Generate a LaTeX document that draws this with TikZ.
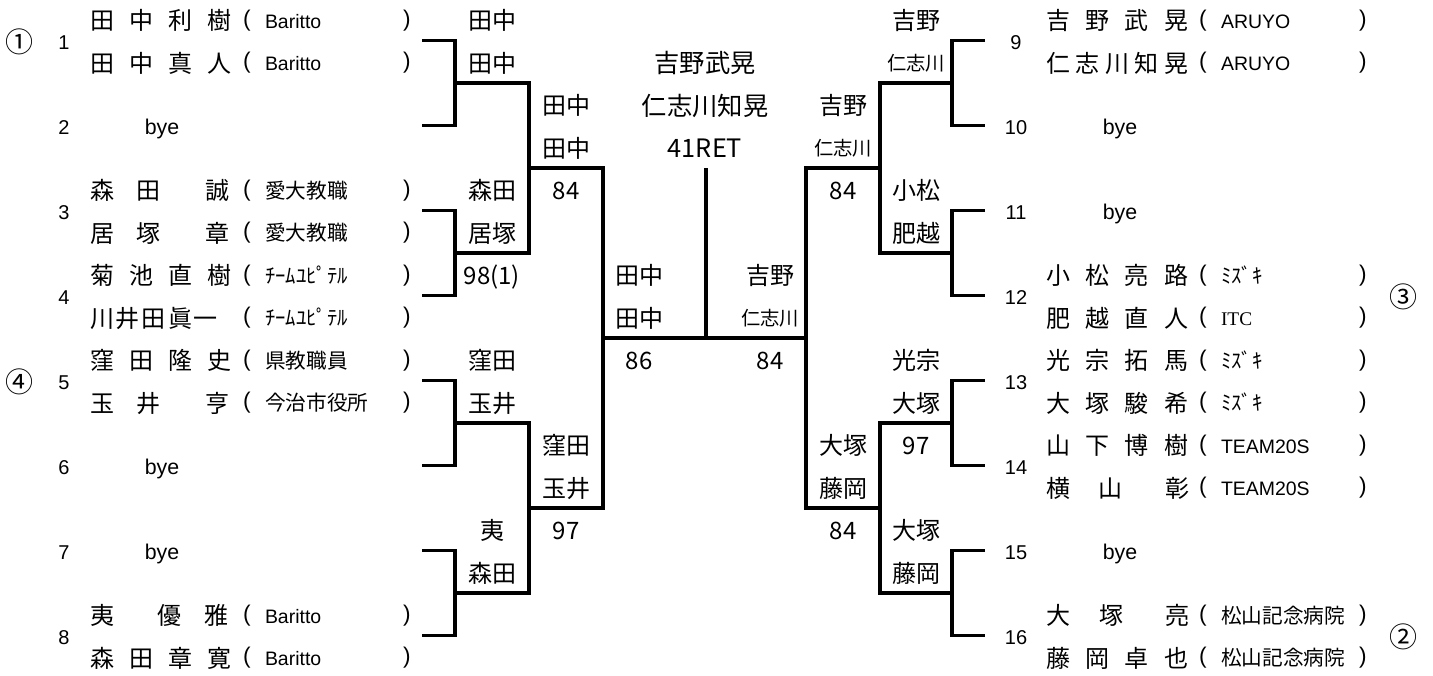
\documentclass[tikz,border=0pt]{standalone}
\usepackage{fontspec}
\setmainfont{Noto Sans CJK JP}
\newfontfamily\lat{Liberation Sans}
\newfontfamily\ser{Liberation Serif}
\newlength\pu
\setlength\pu{0.75pt}
\newcommand\dist[1]{\makebox[142\pu][s]{#1}}
\newcommand\la[1]{{\lat\fontsize{14.6}{14.6}\selectfont #1}}
\newcommand\se[1]{{\ser\fontsize{14.5}{14.5}\selectfont #1}}
\newcommand\prow[5]{%
  \node[nm] (#1) at (#2,#3) {#4};
  \node[pr] (#1o) at (#2+157,#3) {(};
  \node[tm] (#1t) at (#2+175,#3) {#5};
  \node[pr] (#1c) at (#2+317,#3) {)};
}
\tikzset{
  every node/.style={inner sep=0pt, outer sep=0pt},
  br/.style={line width=2.4pt},
  nm/.style={anchor=west, font=\fontsize{18}{18}\selectfont, text height=13.7pt, text depth=0pt},
  tm/.style={anchor=west, font=\fontsize{15.5}{15.5}\selectfont, text height=11.8pt, text depth=0pt},
  pr/.style={font=\lat\fontsize{17}{17}\selectfont, text height=8.8pt, text depth=0pt},
  num/.style={font=\lat\fontsize{15}{15}\selectfont, text height=10.8pt, text depth=0pt},
  byet/.style={font=\lat\fontsize{16}{16}\selectfont, text height=10.8pt, text depth=0pt},
  lb/.style={font=\fontsize{18}{18}\selectfont, text height=13.7pt, text depth=0pt},
  lbs/.style={font=\fontsize{14.5}{14.5}\selectfont, text height=11pt, text depth=0pt},
  ch/.style={font=\fontsize{19}{19}\selectfont, text height=14.4pt, text depth=0pt},
  cir/.style={font=\fontsize{21}{21}\selectfont, text height=16pt, text depth=0pt},
}
\begin{document}
\begin{tikzpicture}[x=0.75pt,y=-0.75pt]
\useasboundingbox (0,0) rectangle (1433,675);
% ---------- bracket coordinates ----------
\coordinate (E1) at (422,40.5);  \coordinate (E2) at (422,125.5);
\coordinate (E3) at (422,210.5); \coordinate (E4) at (422,295.5);
\coordinate (E5) at (422,380.5); \coordinate (E6) at (422,465.5);
\coordinate (E7) at (422,550.5); \coordinate (E8) at (422,635.5);
\coordinate (A1) at (455,83);  \coordinate (A2) at (455,253);
\coordinate (A3) at (455,423); \coordinate (A4) at (455,593);
\coordinate (B1) at (529,168); \coordinate (B2) at (529,508);
\coordinate (C1) at (603,338);
\coordinate (E9) at (985,40.5);   \coordinate (E10) at (985,125.5);
\coordinate (E11) at (985,210.5); \coordinate (E12) at (985,295.5);
\coordinate (E13) at (985,380.5); \coordinate (E14) at (985,465.5);
\coordinate (E15) at (985,550.5); \coordinate (E16) at (985,635.5);
\coordinate (A5) at (952,83);  \coordinate (A6) at (952,253);
\coordinate (A7) at (952,423); \coordinate (A8) at (952,593);
\coordinate (B3) at (880,168); \coordinate (B4) at (880,508);
\coordinate (C2) at (806,338);
\coordinate (W1) at (706,168); \coordinate (W2) at (706,338);
% ---------- bracket lines ----------
\draw[br] (E1) -| (A1) |- (E2);
\draw[br] (E3) -| (A2) |- (E4);
\draw[br] (E5) -| (A3) |- (E6);
\draw[br] (E7) -| (A4) |- (E8);
\draw[br] (A1) -| (B1) |- (A2);
\draw[br] (A3) -| (B2) |- (A4);
\draw[br] (B1) -| (C1) |- (B2);
\draw[br] (E9) -| (A5) |- (E10);
\draw[br] (E11) -| (A6) |- (E12);
\draw[br] (E13) -| (A7) |- (E14);
\draw[br] (E15) -| (A8) |- (E16);
\draw[br] (A5) -| (B3) |- (A6);
\draw[br] (A7) -| (B4) |- (A8);
\draw[br] (B3) -| (C2) |- (B4);
\draw[br] (C1) -- (C2);
\draw[br] (W1) -- (W2);
% ---------- left entries ----------
\node[cir] (s1) at (19,42) {①};
\node[cir] (s4) at (19,382) {④};
\node[num] (n1) at (64,42) {1};
\prow{p1a}{90}{20.5}{\dist{田\hfill 中\hfill 利\hfill 樹}}{\la{Baritto}}
\prow{p1b}{90}{63}{\dist{田\hfill 中\hfill 真\hfill 人}}{\la{Baritto}}
\node[num] (n2) at (64,127) {2};
\node[byet] (y2) at (162,127) {bye};
\node[num] (n3) at (64,212) {3};
\prow{p3a}{90}{190.5}{森\hspace{23\pu}田\hspace{45\pu}誠}{愛大教職}
\prow{p3b}{90}{233}{居\hspace{23\pu}塚\hspace{45\pu}章}{愛大教職}
\node[num] (n4) at (64,297) {4};
\prow{p4a}{90}{275.5}{\dist{菊\hfill 池\hfill 直\hfill 樹}}{ﾁｰﾑﾕﾋﾟﾃﾙ}
\prow{p4b}{90}{318}{川\hspace{2\pu}井\hspace{2\pu}田\hspace{2\pu}眞\hspace{2\pu}一}{ﾁｰﾑﾕﾋﾟﾃﾙ}
\node[num] (n5) at (64,382) {5};
\prow{p5a}{90}{360.5}{\dist{窪\hfill 田\hfill 隆\hfill 史}}{県教職員}
\prow{p5b}{90}{403}{玉\hspace{23\pu}井\hspace{45\pu}亨}{今治市役所}
\node[num] (n6) at (64,467) {6};
\node[byet] (y6) at (162,467) {bye};
\node[num] (n7) at (64,552) {7};
\node[byet] (y7) at (162,552) {bye};
\node[num] (n8) at (64,637) {8};
\prow{p8a}{90}{615.5}{夷\hspace{44\pu}優\hspace{22\pu}雅}{\la{Baritto}}
\prow{p8b}{90}{658}{\dist{森\hfill 田\hfill 章\hfill 寛}}{\la{Baritto}}
% ---------- right entries ----------
\node[num] (n9) at (1016,42) {9};
\prow{p9a}{1046}{20.5}{\dist{吉\hfill 野\hfill 武\hfill 晃}}{\la{ARUYO}}
\prow{p9b}{1046}{63}{\dist{仁\hfill 志\hfill 川\hfill 知\hfill 晃}}{\la{ARUYO}}
\node[num] (n10) at (1016,127) {10};
\node[byet] (y10) at (1120,127) {bye};
\node[num] (n11) at (1016,212) {11};
\node[byet] (y11) at (1120,212) {bye};
\node[num] (n12) at (1016,297) {12};
\prow{p12a}{1046}{275.5}{\dist{小\hfill 松\hfill 亮\hfill 路}}{ﾐｽﾞｷ}
\prow{p12b}{1046}{318}{\dist{肥\hfill 越\hfill 直\hfill 人}}{\se{ITC}}
\node[num] (n13) at (1016,382) {13};
\prow{p13a}{1046}{360.5}{\dist{光\hfill 宗\hfill 拓\hfill 馬}}{ﾐｽﾞｷ}
\prow{p13b}{1046}{403}{\dist{大\hfill 塚\hfill 駿\hfill 希}}{ﾐｽﾞｷ}
\node[num] (n14) at (1016,467) {14};
\prow{p14a}{1046}{445.5}{\dist{山\hfill 下\hfill 博\hfill 樹}}{\la{TEAM20S}}
\prow{p14b}{1046}{488}{横\hspace{28\pu}山\hspace{43\pu}彰}{\la{TEAM20S}}
\node[num] (n15) at (1016,552) {15};
\node[byet] (y15) at (1120,552) {bye};
\node[num] (n16) at (1016,637) {16};
\prow{p16a}{1046}{615.5}{大\hspace{29\pu}塚\hspace{42\pu}亮}{松山記念病院}
\prow{p16b}{1046}{658}{\dist{藤\hfill 岡\hfill 卓\hfill 也}}{松山記念病院}
\node[cir] (s3) at (1403,297) {③};
\node[cir] (s2) at (1403,637) {②};
% ---------- left winners ----------
\node[lb] (la1) at (492,20.5) {田中};
\node[lb] (la2) at (492,63) {田中};
\node[lb] (la3) at (492,190.5) {森田};
\node[lb] (la4) at (492,233) {居塚};
\node[lb] (la5) at (492,275.5) {98(1)};
\node[lb] (la6) at (492,360.5) {窪田};
\node[lb] (la7) at (492,403) {玉井};
\node[lb] (la8) at (492,530.5) {夷};
\node[lb] (la9) at (492,573) {森田};
\node[lb] (lb1) at (566,105.5) {田中};
\node[lb] (lb2) at (566,148) {田中};
\node[lb] (lb3) at (566,190.5) {84};
\node[lb] (lb4) at (566,445.5) {窪田};
\node[lb] (lb5) at (566,488) {玉井};
\node[lb] (lb6) at (566,530.5) {97};
\node[lb] (lc1) at (639,275.5) {田中};
\node[lb] (lc2) at (639,318) {田中};
\node[lb] (lc3) at (639,360.5) {86};
% ---------- champion ----------
\node[ch] (w1) at (705,63) {吉野武晃};
\node[ch] (w2) at (705,105.5) {仁志川知晃};
\node[ch] (w3) at (705,148) {41RET};
% ---------- right winners ----------
\node[lb] (rc1) at (770,275.5) {吉野};
\node[lbs] (rc2) at (770,318) {仁志川};
\node[lb] (rc3) at (770,360.5) {84};
\node[lb] (rb1) at (843,105.5) {吉野};
\node[lbs] (rb2) at (843,148) {仁志川};
\node[lb] (rb3) at (843,190.5) {84};
\node[lb] (rb4) at (843,445.5) {大塚};
\node[lb] (rb5) at (843,488) {藤岡};
\node[lb] (rb6) at (843,530.5) {84};
\node[lb] (ra1) at (916,20.5) {吉野};
\node[lbs] (ra2) at (916,63) {仁志川};
\node[lb] (ra3) at (916,190.5) {小松};
\node[lb] (ra4) at (916,233) {肥越};
\node[lb] (ra5) at (916,360.5) {光宗};
\node[lb] (ra6) at (916,403) {大塚};
\node[lb] (ra7) at (916,445.5) {97};
\node[lb] (ra8) at (916,530.5) {大塚};
\node[lb] (ra9) at (916,573) {藤岡};
\end{tikzpicture}
\end{document}
